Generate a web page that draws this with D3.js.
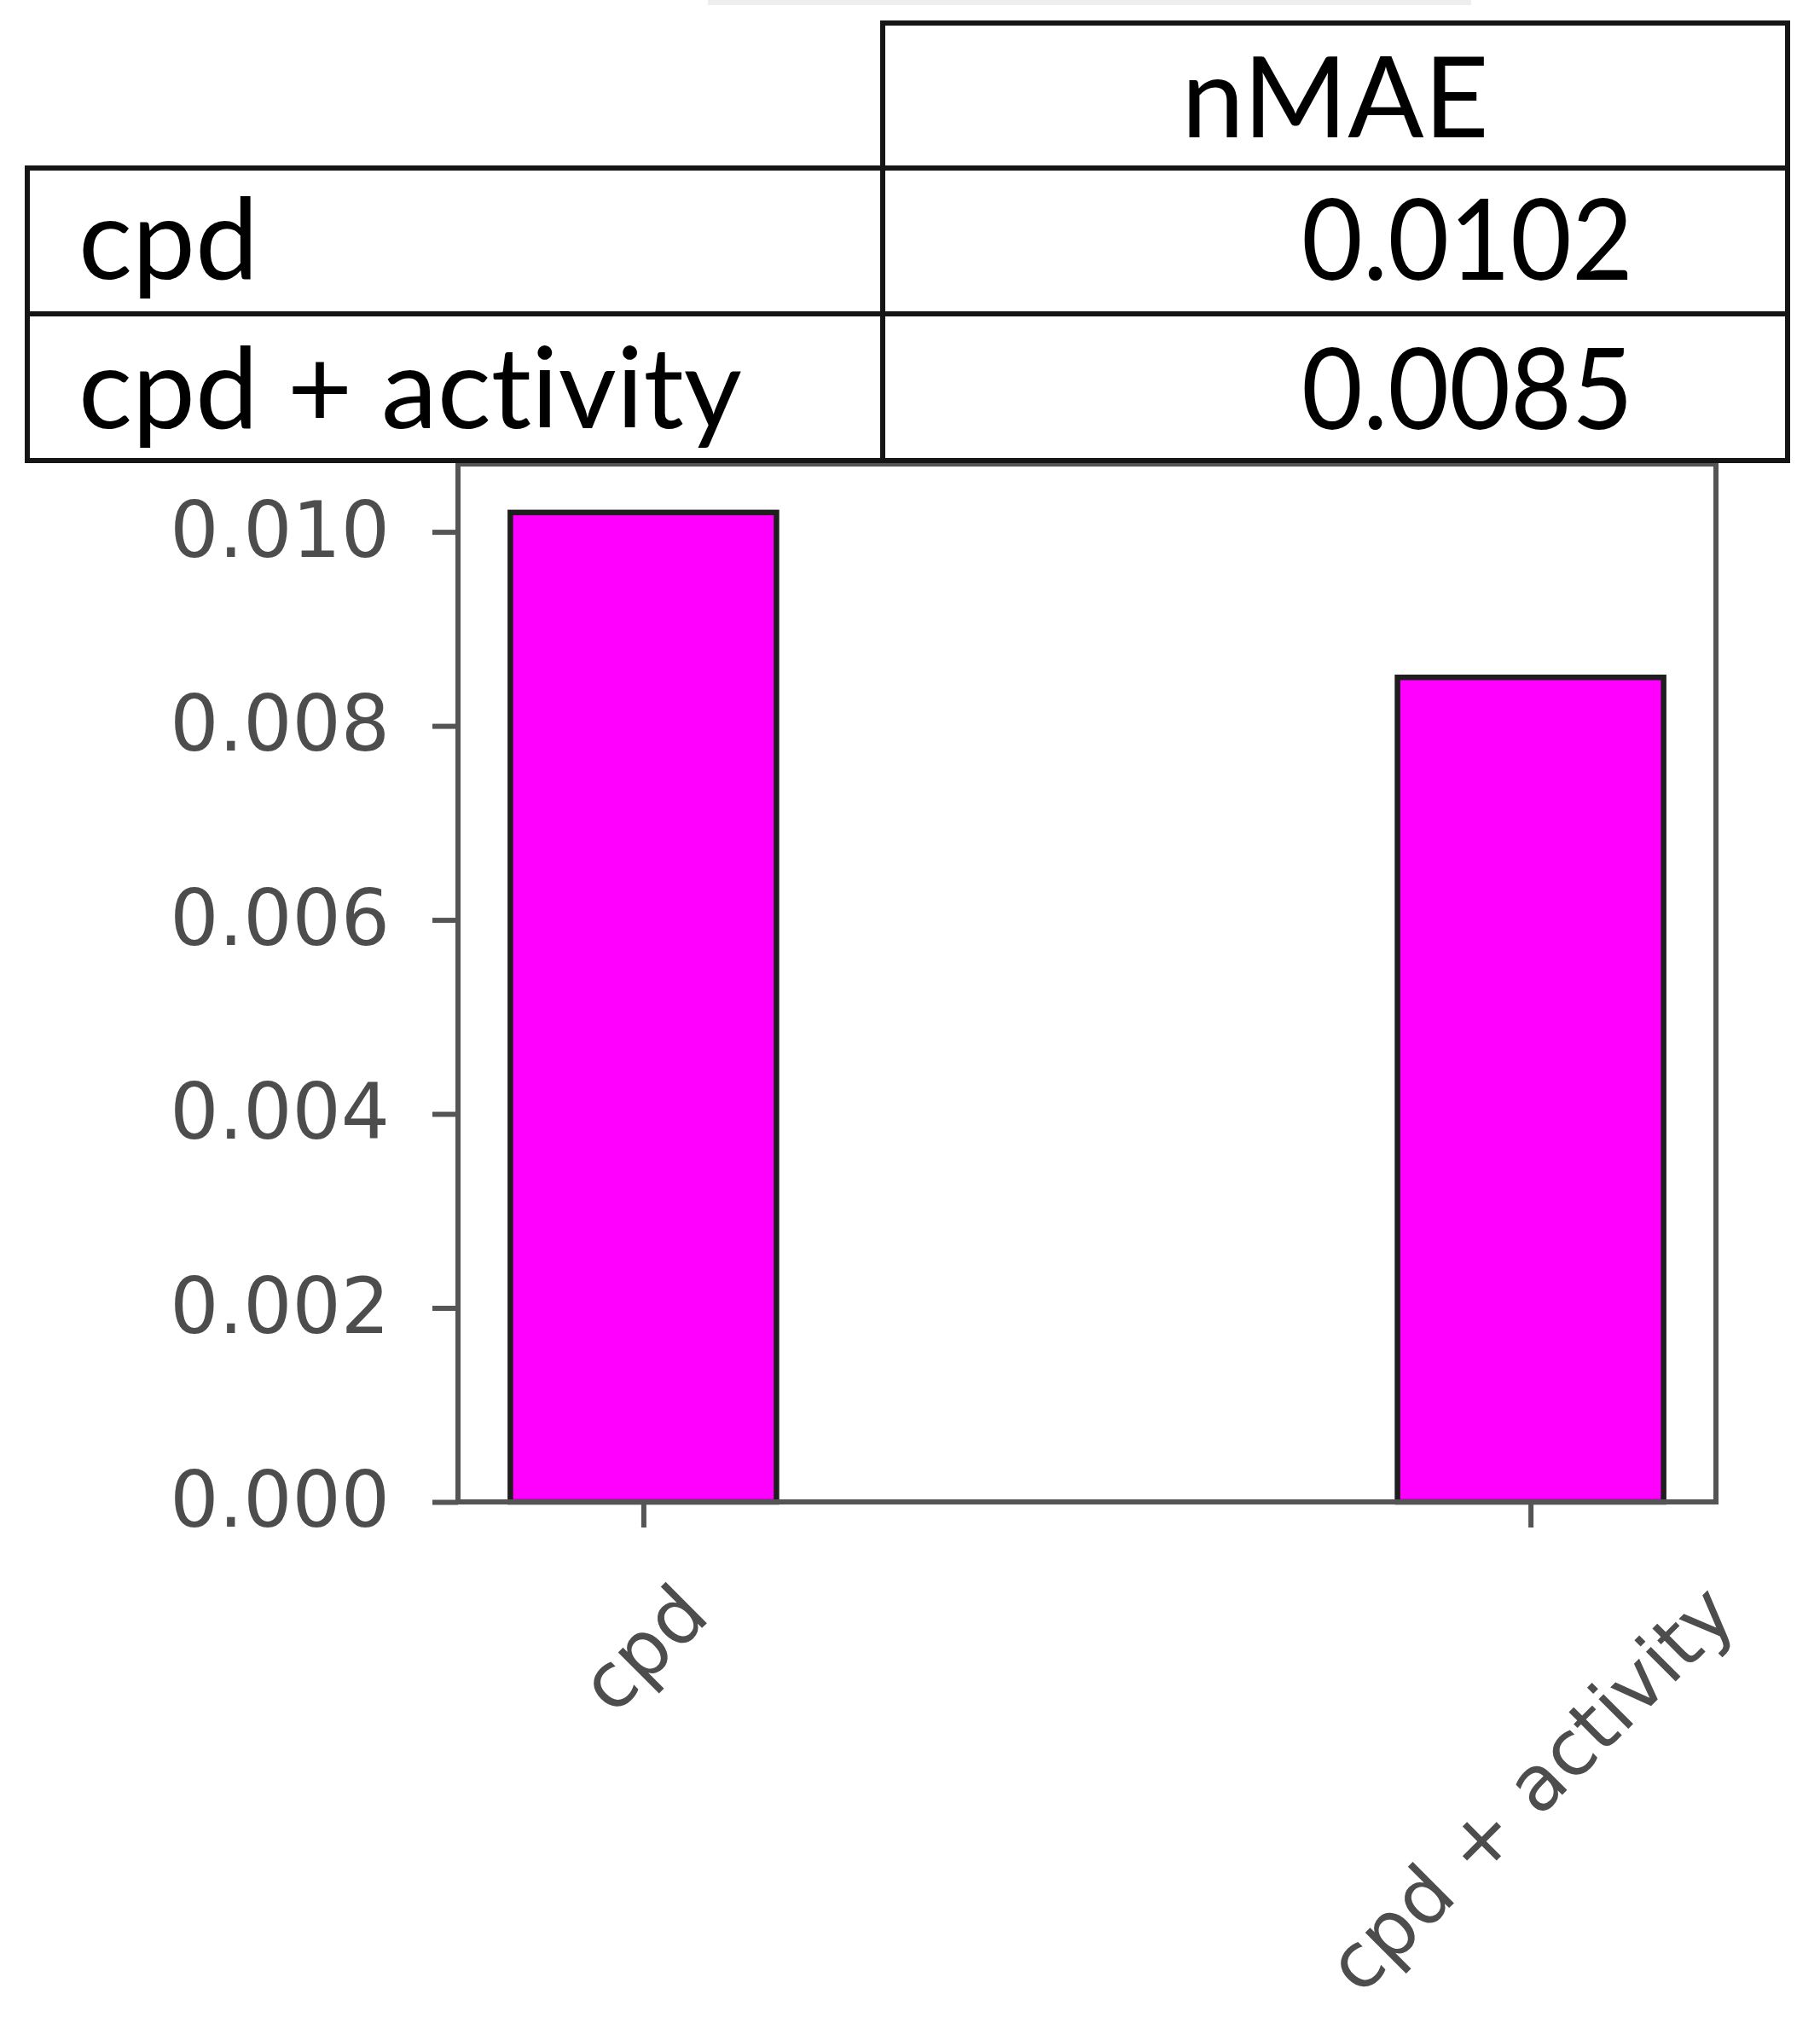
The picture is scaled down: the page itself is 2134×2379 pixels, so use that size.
<!DOCTYPE html>
<html>
<head>
<meta charset="utf-8">
<script src="https://cdn.jsdelivr.net/npm/d3@7"></script>
<style>
  html, body { margin: 0; padding: 0; background: #ffffff; }
  svg { display: block; }
  text { font-variant-ligatures: none; font-feature-settings: "liga" 0, "clig" 0; }
</style>
</head>
<body>
<script>
// ---- data ----
const categories = ["cpd", "cpd + activity"];
const nmaeValues = [0.0102, 0.0085];
const tableColumnLabel = "nMAE";
const tableRowLabels = ["cpd", "cpd + activity"];
const tableCellText = ["0.0102", "0.0085"];
const yTickValues = [0.000, 0.002, 0.004, 0.006, 0.008, 0.010];

// ---- layout ----
const W = 2134, H = 2379;
const plot = { left: 537, right: 2012, top: 544, bottom: 1761 };

const svg = d3.select("body").append("svg").attr("width", W).attr("height", H);
svg.append("rect").attr("width", W).attr("height", H).attr("fill", "#fff");
// faint strip at the very top (cropped element)
svg.append("rect").attr("x", 830).attr("y", 0).attr("width", 895).attr("height", 6).attr("fill", "#eeeeee");

const y = d3.scaleLinear().domain([0, 0.0107]).range([plot.bottom, plot.top]);
const x = d3.scalePoint().domain(categories).range([plot.left, plot.right]).padding(0.209);
const barW = x.step() * 0.3;

const axisColor = "#555";
const labelColor = "#4d4d4d";

// bars
svg.append("g").selectAll("rect").data(categories).join("rect")
  .attr("x", d => x(d) - barW / 2)
  .attr("y", (d, i) => y(nmaeValues[i]))
  .attr("width", barW)
  .attr("height", (d, i) => y(0) - y(nmaeValues[i]))
  .attr("fill", "#ff00ff")
  .attr("stroke", "#1e1e1e")
  .attr("stroke-width", 6.5);

// y axis
const yAxis = svg.append("g").attr("transform", `translate(${plot.left},0)`)
  .call(d3.axisLeft(y).tickValues(yTickValues).tickFormat(d3.format(".3f"))
    .tickSize(30).tickSizeOuter(0).tickPadding(50));
yAxis.select(".domain").remove();
yAxis.selectAll(".tick line").attr("stroke", axisColor).attr("stroke-width", 6);
yAxis.selectAll(".tick text").attr("fill", labelColor)
  .style("font-family", "'DejaVu Sans', sans-serif").style("font-size", "90px");

// x axis ticks
const xAxis = svg.append("g").attr("transform", `translate(0,${plot.bottom})`)
  .call(d3.axisBottom(x).tickSize(30).tickSizeOuter(0).tickFormat(""));
xAxis.select(".domain").remove();
xAxis.selectAll(".tick line").attr("stroke", axisColor).attr("stroke-width", 6);

// rotated x labels (centered under tick, rotated 45°)
const labelTop = 1838;
const fs = 90;
const xl = svg.append("g");
categories.forEach(c => {
  const t = xl.append("text")
    .attr("text-anchor", "middle")
    .attr("dominant-baseline", "central")
    .attr("fill", labelColor)
    .style("font-family", "'DejaVu Sans', sans-serif")
    .style("font-size", fs + "px")
    .text(c);
  const w = t.node().getComputedTextLength();
  const h = fs * 1.164;
  const half = (w + h) * Math.SQRT1_2 / 2;
  t.attr("transform", `translate(${x(c)},${labelTop + half}) rotate(-45)`);
});

// spines
const sp = svg.append("g").attr("fill", "none").attr("stroke", axisColor).attr("stroke-width", 6);
sp.append("rect").attr("x", plot.left).attr("y", plot.top)
  .attr("width", plot.right - plot.left).attr("height", plot.bottom - plot.top);

// ---- table ----
const tbl = svg.append("g");
const colX0 = 32, colX1 = 1035, colX2 = 2096;
const rowY = [197, 368, 540];
const headY0 = 27;
const cellStyle = s => s.attr("fill", "#fff").attr("stroke", "#151515").attr("stroke-width", 6);

tbl.append("rect").attr("x", colX1).attr("y", headY0).attr("width", colX2 - colX1).attr("height", rowY[0] - headY0).call(cellStyle);
tableRowLabels.forEach((r, i) => {
  tbl.append("rect").attr("x", colX0).attr("y", rowY[i]).attr("width", colX1 - colX0).attr("height", rowY[i + 1] - rowY[i]).call(cellStyle);
  tbl.append("rect").attr("x", colX1).attr("y", rowY[i]).attr("width", colX2 - colX1).attr("height", rowY[i + 1] - rowY[i]).call(cellStyle);
});

const tFont = "Lato, 'Open Sans', sans-serif";
const tSize = "132px";
tbl.append("text").attr("x", (colX1 + colX2) / 2).attr("y", 161)
  .attr("text-anchor", "middle").attr("fill", "#000")
  .style("font-family", tFont).style("font-size", tSize).text(tableColumnLabel);

const baselines = [327, 502];
tableRowLabels.forEach((r, i) => {
  tbl.append("text").attr("x", 92).attr("y", baselines[i])
    .attr("fill", "#000").style("font-family", tFont).style("font-size", tSize).text(r);
  tbl.append("text").attr("x", 1526).attr("y", baselines[i] + 1)
    .attr("textLength", 389).attr("lengthAdjust", "spacingAndGlyphs")
    .attr("fill", "#000")
    .style("font-family", tFont).style("font-size", tSize).text(tableCellText[i]);
});
</script>
</body>
</html>
